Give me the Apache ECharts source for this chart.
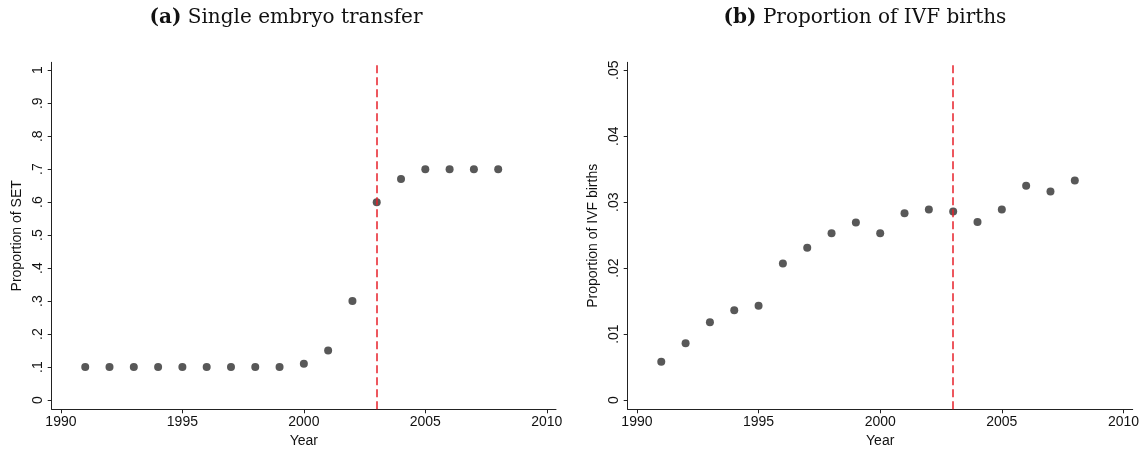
<!DOCTYPE html>
<html>
<head>
<meta charset="utf-8">
<script src="https://cdn.jsdelivr.net/npm/echarts@6/dist/echarts.min.js"></script>
<style>
html,body{margin:0;padding:0;background:#fff;}
#chart{width:1147px;height:449px;}
</style>
</head>
<body>
<div id="chart"></div>
<script>
// ---- Data ----
const years = [1991,1992,1993,1994,1995,1996,1997,1998,1999,2000,2001,2002,2003,2004,2005,2006,2007,2008];
const setProportion = [0.10,0.10,0.10,0.10,0.10,0.10,0.10,0.10,0.10,0.11,0.15,0.30,0.60,0.67,0.70,0.70,0.70,0.70];
const ivfProportion = [0.0058,0.0086,0.0118,0.0136,0.0143,0.0207,0.0231,0.0253,0.0269,0.0253,0.0283,0.0289,0.0286,0.0270,0.0289,0.0325,0.0316,0.0333];
const reformYear = 2003;
const yearTicks = [1990,1995,2000,2005,2010];
const yearTickLabels = ['1990','1995','2000','2005','2010'];
const setTicks = [0,0.1,0.2,0.3,0.4,0.5,0.6,0.7,0.8,0.9,1];
const setTickLabels = ['0','.1','.2','.3','.4','.5','.6','.7','.8','.9','1'];
const ivfTicks = [0,0.01,0.02,0.03,0.04,0.05];
const ivfTickLabels = ['0','.01','.02','.03','.04','.05'];
const titleA = 'Single embryo transfer';
const titleB = 'Proportion of IVF births';

function labelFor(ticks, labels){
  return function(v){
    for (let i=0;i<ticks.length;i++){ if (Math.abs(ticks[i]-v) < 1e-9) return labels[i]; }
    return '';
  };
}

const axisColor = '#222';
const fontFam = 'Liberation Sans, Arial, sans-serif';

function xAx(gi){
  return {
    type:'value', gridIndex:gi, min:1989.62, max:2010.38,
    name:'Year', nameLocation:'middle', nameGap:22,
    nameTextStyle:{fontFamily:fontFam, fontSize:14, color:'#111'},
    axisLine:{show:true, onZero:false, lineStyle:{color:axisColor, width:1}},
    axisTick:{show:true, customValues:yearTicks, length:4, lineStyle:{color:axisColor}},
    axisLabel:{customValues:yearTicks, fontFamily:fontFam, fontSize:14, color:'#111', margin:6,
      formatter:labelFor(yearTicks, yearTickLabels)},
    splitLine:{show:false}
  };
}
function yAx(gi, mn, mx, ticks, labels, name){
  return {
    type:'value', gridIndex:gi, min:mn, max:mx,
    name:name, nameLocation:'middle', nameGap:28,
    nameTextStyle:{fontFamily:fontFam, fontSize:14, color:'#111'},
    axisLine:{show:true, onZero:false, lineStyle:{color:axisColor, width:1}},
    axisTick:{show:true, customValues:ticks, length:4, lineStyle:{color:axisColor}},
    axisLabel:{customValues:ticks, rotate:90, fontFamily:fontFam, fontSize:14, color:'#111', margin:7,
      formatter:labelFor(ticks, labels)},
    splitLine:{show:false}
  };
}

const serif = 'DejaVu Serif, Liberation Serif, serif';
const titleStyle = {
  fontFamily:serif, fontSize:20, fontWeight:'normal', color:'#111',
  rich:{b:{fontFamily:serif, fontSize:20, fontWeight:'bold', color:'#111'}}
};

const chart = echarts.init(document.getElementById('chart'), null, {renderer:'canvas'});
chart.setOption({
  animation:false,
  backgroundColor:'#fff',
  title:[
    {text:'{b|(a)} '+titleA, left:281, top:3, textAlign:'center', textStyle:titleStyle},
    {text:'{b|(b)} '+titleB, left:860, top:3, textAlign:'center', textStyle:titleStyle}
  ],
  grid:[
    {left:51.7, top:62.3, width:504.3, height:347, containLabel:false, outerBoundsMode:'none'},
    {left:627.7, top:62.3, width:505, height:347, containLabel:false, outerBoundsMode:'none'}
  ],
  xAxis:[xAx(0), xAx(1)],
  yAxis:[
    yAx(0, -0.028, 1.024, setTicks, setTickLabels, 'Proportion of SET'),
    yAx(1, -0.0014, 0.0512, ivfTicks, ivfTickLabels, 'Proportion of IVF births')
  ],
  series:[
    {type:'scatter', xAxisIndex:0, yAxisIndex:0, symbolSize:8,
     itemStyle:{color:'#585858', opacity:1},
     data:years.map((y,i)=>[y,setProportion[i]]),
     markLine:{silent:true, symbol:'none', label:{show:false},
       lineStyle:{color:'#e8202a', width:1.5, type:[8,4], opacity:1},
       data:[{xAxis:reformYear}]}},
    {type:'scatter', xAxisIndex:1, yAxisIndex:1, symbolSize:8,
     itemStyle:{color:'#585858', opacity:1},
     data:years.map((y,i)=>[y,ivfProportion[i]]),
     markLine:{silent:true, symbol:'none', label:{show:false},
       lineStyle:{color:'#e8202a', width:1.5, type:[8,4], opacity:1},
       data:[{xAxis:reformYear}]}}
  ]
});
</script>
</body>
</html>
